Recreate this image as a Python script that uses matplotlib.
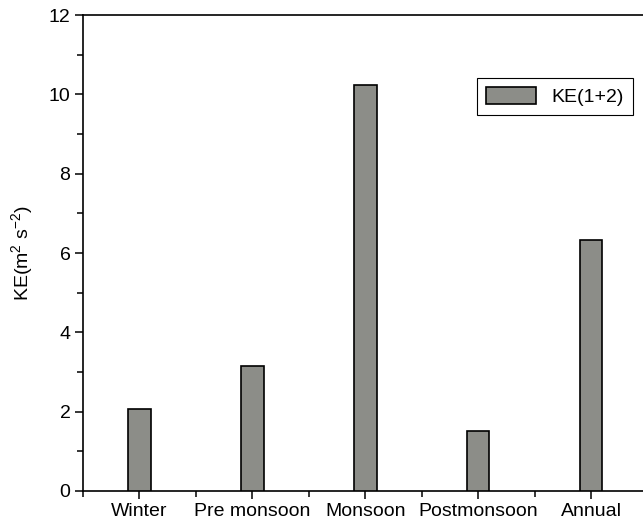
import numpy as np
import matplotlib
matplotlib.use("Agg")
import matplotlib.pyplot as plt
from matplotlib.ticker import MultipleLocator, FixedLocator

plt.rcParams['font.family'] = ['Liberation Sans', 'DejaVu Sans']
plt.rcParams['mathtext.default'] = 'regular'

seasons = ["Winter", "Pre monsoon", "Monsoon", "Postmonsoon", "Annual"]
ke = [2.08, 3.15, 10.23, 1.51, 6.33]

fig = plt.figure(figsize=(6.43, 5.24), dpi=100)
ax = fig.add_axes([0.129, 0.063, 0.871, 0.908])

x = np.arange(1, len(seasons) + 1)
ax.bar(x, ke, width=0.2, color="#8c8d88", edgecolor="black", linewidth=1.2,
       label="KE(1+2)", zorder=3)

ax.set_xlim(0.5, 5.46)
ax.set_ylim(0, 12)
ax.set_xticks(x)
ax.set_xticklabels(seasons, fontsize=14)
ax.xaxis.set_minor_locator(FixedLocator(np.arange(0.5, 6, 1.0)))
ax.yaxis.set_major_locator(MultipleLocator(2))
ax.yaxis.set_minor_locator(MultipleLocator(1))
ax.tick_params(axis='both', which='major', direction='out', length=6, width=1.1,
               labelsize=14)
ax.tick_params(axis='both', which='minor', direction='out', length=4, width=1.1)
ax.tick_params(axis='x', pad=3)
ax.tick_params(axis='y', pad=3)

for s in ['left', 'bottom', 'top']:
    ax.spines[s].set_linewidth(1.2)
ax.spines['right'].set_visible(False)

ax.set_ylabel("KE(m$^{2}$ s$^{-2}$)", fontsize=14, labelpad=10)

leg = ax.legend(loc='upper right', bbox_to_anchor=(0.982, 0.868), fontsize=14,
                borderaxespad=0, fancybox=False, edgecolor='black', framealpha=1,
                handlelength=2.6, handleheight=1.0, borderpad=0.45)
leg.get_frame().set_linewidth(0.8)

fig.savefig("out.png", dpi=100)
